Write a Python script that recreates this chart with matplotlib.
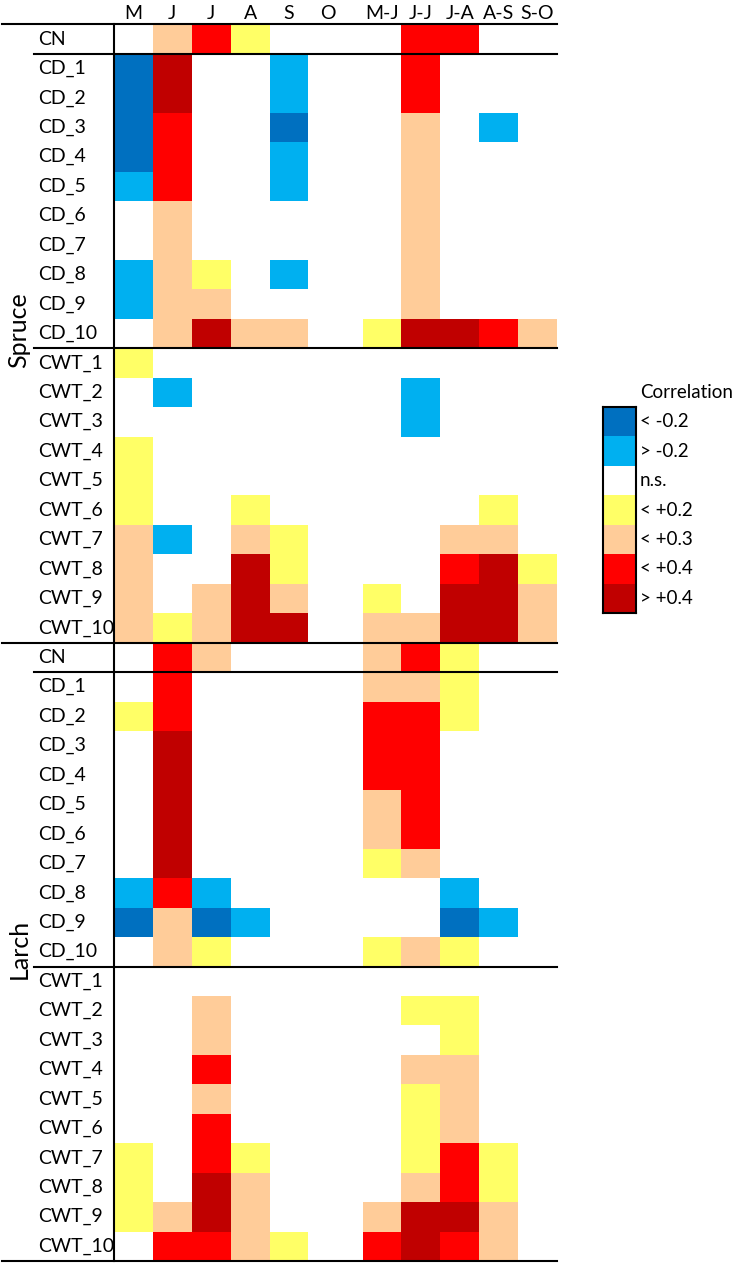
import matplotlib.pyplot as plt
import numpy as np
import matplotlib.transforms as mtransforms
from matplotlib.colors import ListedColormap, BoundaryNorm

plt.rcParams['font.family'] = ['Lato', 'DejaVu Sans']

months = ["M", "J", "J", "A", "S", "O", "M-J", "J-J", "J-A", "A-S", "S-O"]
rows = ["CN"] + ["CD_%d" % i for i in range(1, 11)] + ["CWT_%d" % i for i in range(1, 11)]
species = ["Spruce", "Larch"]

# class codes: -2 "< -0.2", -1 "> -0.2", 0 n.s., 1 "< +0.2", 2 "< +0.3", 3 "< +0.4", 4 "> +0.4"
spruce = [
    [0, 2, 3, 1, 0, 0, 0, 3, 3, 0, 0],
    [-2, 4, 0, 0, -1, 0, 0, 3, 0, 0, 0],
    [-2, 4, 0, 0, -1, 0, 0, 3, 0, 0, 0],
    [-2, 3, 0, 0, -2, 0, 0, 2, 0, -1, 0],
    [-2, 3, 0, 0, -1, 0, 0, 2, 0, 0, 0],
    [-1, 3, 0, 0, -1, 0, 0, 2, 0, 0, 0],
    [0, 2, 0, 0, 0, 0, 0, 2, 0, 0, 0],
    [0, 2, 0, 0, 0, 0, 0, 2, 0, 0, 0],
    [-1, 2, 1, 0, -1, 0, 0, 2, 0, 0, 0],
    [-1, 2, 2, 0, 0, 0, 0, 2, 0, 0, 0],
    [0, 2, 4, 2, 2, 0, 1, 4, 4, 3, 2],
    [1, 0, 0, 0, 0, 0, 0, 0, 0, 0, 0],
    [0, -1, 0, 0, 0, 0, 0, -1, 0, 0, 0],
    [0, 0, 0, 0, 0, 0, 0, -1, 0, 0, 0],
    [1, 0, 0, 0, 0, 0, 0, 0, 0, 0, 0],
    [1, 0, 0, 0, 0, 0, 0, 0, 0, 0, 0],
    [1, 0, 0, 1, 0, 0, 0, 0, 0, 1, 0],
    [2, -1, 0, 2, 1, 0, 0, 0, 2, 2, 0],
    [2, 0, 0, 4, 1, 0, 0, 0, 3, 4, 1],
    [2, 0, 2, 4, 2, 0, 1, 0, 4, 4, 2],
    [2, 1, 2, 4, 4, 0, 2, 2, 4, 4, 2],
]

larch = [
    [0, 3, 2, 0, 0, 0, 2, 3, 1, 0, 0],
    [0, 3, 0, 0, 0, 0, 2, 2, 1, 0, 0],
    [1, 3, 0, 0, 0, 0, 3, 3, 1, 0, 0],
    [0, 4, 0, 0, 0, 0, 3, 3, 0, 0, 0],
    [0, 4, 0, 0, 0, 0, 3, 3, 0, 0, 0],
    [0, 4, 0, 0, 0, 0, 2, 3, 0, 0, 0],
    [0, 4, 0, 0, 0, 0, 2, 3, 0, 0, 0],
    [0, 4, 0, 0, 0, 0, 1, 2, 0, 0, 0],
    [-1, 3, -1, 0, 0, 0, 0, 0, -1, 0, 0],
    [-2, 2, -2, -1, 0, 0, 0, 0, -2, -1, 0],
    [0, 2, 1, 0, 0, 0, 1, 2, 1, 0, 0],
    [0, 0, 0, 0, 0, 0, 0, 0, 0, 0, 0],
    [0, 0, 2, 0, 0, 0, 0, 1, 1, 0, 0],
    [0, 0, 2, 0, 0, 0, 0, 0, 1, 0, 0],
    [0, 0, 3, 0, 0, 0, 0, 2, 2, 0, 0],
    [0, 0, 2, 0, 0, 0, 0, 1, 2, 0, 0],
    [0, 0, 3, 0, 0, 0, 0, 1, 2, 0, 0],
    [1, 0, 3, 1, 0, 0, 0, 1, 3, 1, 0],
    [1, 0, 4, 2, 0, 0, 0, 2, 3, 1, 0],
    [1, 2, 4, 2, 0, 0, 2, 4, 4, 2, 0],
    [0, 3, 3, 2, 1, 0, 3, 4, 3, 2, 0],
]

classes = ["< -0.2", "> -0.2", "n.s.", "< +0.2", "< +0.3", "< +0.4", "> +0.4"]
colors = ["#0070C0", "#00B0F0", "#FFFFFF", "#FFFF66", "#FFCC99", "#FF0000", "#C00000"]

cmap = ListedColormap(colors)
norm = BoundaryNorm(np.arange(-2.5, 5.5, 1), cmap.N)

data = np.array(spruce + larch)
nrow = data.shape[0]
gap = 0.39  # blank space between single months and month pairs

fig = plt.figure(figsize=(7.35, 12.65), dpi=100)
ax = fig.add_axes([114 / 735, 1 - 1261 / 1265, 443 / 735, 1236.7 / 1265])

yedges = np.arange(nrow + 1)
x1 = np.arange(7)
x2 = np.arange(6, 12) + gap
ax.pcolormesh(x1, yedges, data[:, :6], cmap=cmap, norm=norm, antialiased=False, linewidth=0)
ax.pcolormesh(x2, yedges, data[:, 6:], cmap=cmap, norm=norm, antialiased=False, linewidth=0)
ax.set_xlim(0, 11 + gap)
ax.set_ylim(nrow, 0)

xc = np.concatenate([x1[:-1] + 0.5, x2[:-1] + 0.5])
ax.xaxis.tick_top()
ax.set_xticks(xc)
ax.set_xticklabels(months, fontsize=14)
ax.tick_params(axis='x', length=0, pad=2)
ax.set_yticks([])
for s in ['top', 'right', 'bottom']:
    ax.spines[s].set_visible(False)
ax.spines['left'].set_linewidth(1.5)

trans = mtransforms.blended_transform_factory(ax.transAxes, ax.transData)
nsub = len(rows)
for k, sp in enumerate(species):
    off = k * nsub
    for i, r in enumerate(rows):
        ax.text(-0.1716, off + i + 0.5, r, transform=trans, ha='left', va='center', fontsize=14)
    ax.text(-0.2144, off + nsub / 2 - 0.1, sp, transform=trans, rotation=90,
            ha='center', va='center', fontsize=18)
    # separators
    ax.plot([-0.1806, 1], [off + 1, off + 1], transform=trans, color='k', lw=1.5, clip_on=False)
    ax.plot([-0.1806, 1], [off + 11, off + 11], transform=trans, color='k', lw=1.5, clip_on=False)
    ax.plot([-0.253, 1], [off, off], transform=trans, color='k', lw=1.5, clip_on=False)
ax.plot([-0.253, 1], [nrow, nrow], transform=trans, color='k', lw=1.5, clip_on=False)

# legend
lax = fig.add_axes([602.5 / 735, 1 - 613 / 1265, 33 / 735, 206 / 1265])
lax.imshow(np.arange(-2, 5).reshape(-1, 1), cmap=cmap, norm=norm, aspect='auto')
lax.set_xticks([])
lax.set_yticks([])
for s in lax.spines.values():
    s.set_linewidth(1.5)
ltrans = mtransforms.blended_transform_factory(lax.transAxes, lax.transData)
for i, c in enumerate(classes):
    lax.text(1.14, i, c, transform=ltrans, ha='left', va='center', fontsize=13.5)
lax.text(1.14, 1.068, "Correlation", transform=lax.transAxes, ha='left', va='center', fontsize=13.5)

fig.savefig("out.png", dpi=100)
